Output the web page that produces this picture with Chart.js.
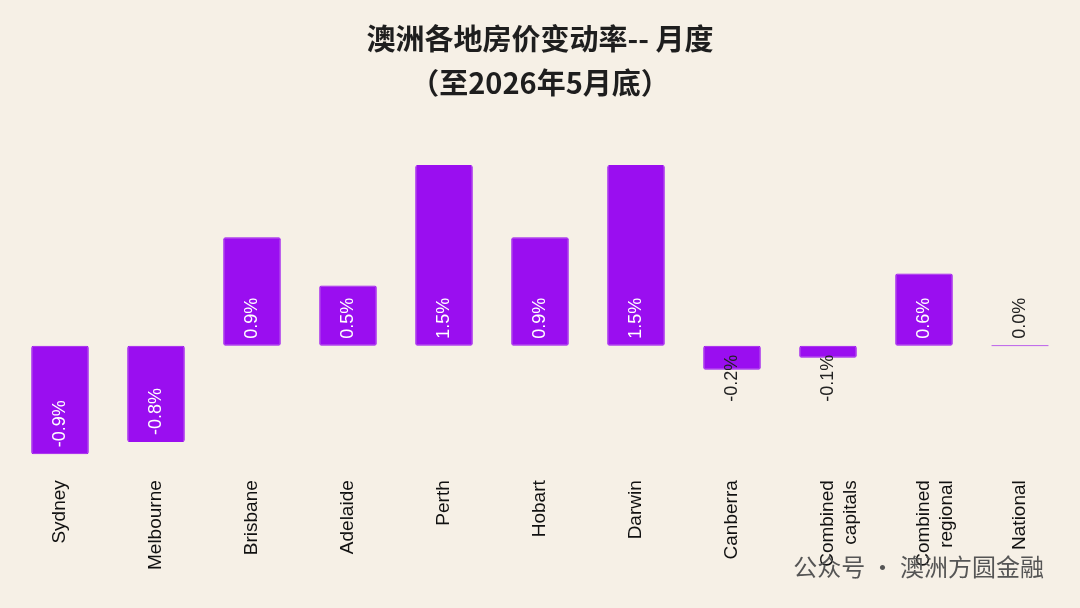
<!DOCTYPE html>
<html>
<head>
<meta charset="utf-8">
<script src="https://cdn.jsdelivr.net/npm/chart.js@4"></script>
<style>
  html, body { margin: 0; padding: 0; background: #f6f0e6; }
  #wrap { position: relative; width: 1080px; height: 608px; }
  .title { position: absolute; left: 0; width: 1080px; text-align: center; font-family: "Noto Sans CJK SC", sans-serif; font-weight: bold; color: #1e1e1e; font-size: 29px; }
  .mark { position: absolute; right: 36px; top: 548px; font-family: "Noto Sans CJK SC", sans-serif; font-size: 24px; color: #555; }
</style>
</head>
<body>
<div id="wrap">
  <div class="title" style="top:16px">澳洲各地房价变动率-- 月度</div>
  <div class="title" style="top:60px">（至2026年5月底）</div>
  <canvas id="c" width="1080" height="608"></canvas>
  <div class="mark">公众号 · 澳洲方圆金融</div>
</div>
<script>
// Chart data
const categories = ['Sydney', 'Melbourne', 'Brisbane', 'Adelaide', 'Perth', 'Hobart', 'Darwin',
    'Canberra', ['Combined', 'capitals'], ['Combined', 'regional'], 'National'];
const changes = [-0.9, -0.8, 0.9, 0.5, 1.5, 0.9, 1.5, -0.2, -0.1, 0.6, 0.0];

const barColor = '#9a0ef0';

// Rotated value labels
const valueLabels = {
    id: 'valueLabels',
    afterDatasetsDraw(chart) {
        const ctx = chart.ctx;
        const meta = chart.getDatasetMeta(0);
        const zero = chart.scales.y.getPixelForValue(0);
        ctx.save();
        ctx.font = '18px "Liberation Sans", Arial, sans-serif';
        ctx.textBaseline = 'middle';
        ctx.textAlign = 'left';
        meta.data.forEach((bar, i) => {
            const v = changes[i];
            const text = v.toFixed(1) + '%';
            const w = ctx.measureText(text).width;
            const h = Math.abs(bar.y - zero);
            let start, color = '#fff';
            if (h > w + 12) {
                start = Math.max(bar.y, zero) - 7;
            } else if (v < 0) {
                start = zero + 56; color = '#222';
            } else {
                start = zero - 7; color = '#222';
            }
            ctx.save();
            ctx.translate(bar.x, start);
            ctx.rotate(-Math.PI / 2);
            ctx.fillStyle = color;
            ctx.fillText(text, 0, 0);
            ctx.restore();
        });
        ctx.restore();
    }
};

new Chart(document.getElementById('c'), {
    type: 'bar',
    data: {
        labels: categories,
        datasets: [{
            data: changes,
            backgroundColor: barColor,
            borderColor: barColor,
            borderWidth: 1,
            borderRadius: 2,
            borderSkipped: false,
            categoryPercentage: 1,
            barPercentage: 0.6,
            minBarLength: 1
        }]
    },
    options: {
        responsive: false,
        animation: false,
        layout: { padding: { top: 165, left: 12, right: 12, bottom: 38 } },
        plugins: { legend: { display: false }, tooltip: { enabled: false } },
        scales: {
            y: { display: false, min: -1.05, max: 1.5 },
            x: {
                grid: { display: false },
                border: { display: false },
                ticks: {
                    color: '#111',
                    padding: 0,
                    minRotation: 90, maxRotation: 90,
                    font: { size: 19, family: '"Liberation Sans", Arial, sans-serif' }
                }
            }
        }
    },
    plugins: [valueLabels]
});
</script>
</body>
</html>
